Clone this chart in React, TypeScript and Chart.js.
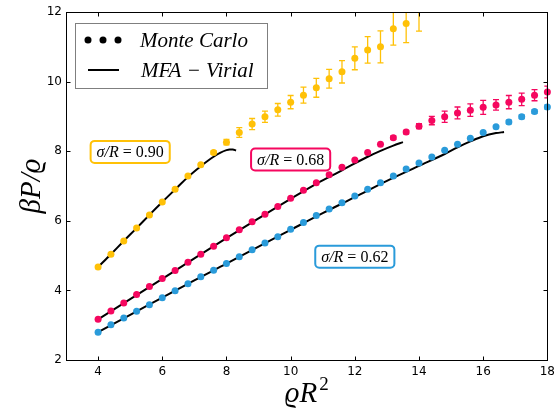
import React, { useEffect, useRef } from "react";
import { Chart, registerables } from "chart.js";
Chart.register(...registerables);

// ---- data ----
const mcRho = [4.0, 4.4, 4.8, 5.2, 5.6, 6.0, 6.4, 6.8, 7.2, 7.6, 8.0, 8.4, 8.8, 9.2, 9.6, 10.0, 10.4, 10.8, 11.2, 11.6, 12.0, 12.4, 12.8, 13.2, 13.6, 14.0, 14.4, 14.8, 15.2, 15.6, 16.0, 16.4, 16.8, 17.2, 17.6, 18.0];

const mc090 = [4.67, 5.04, 5.42, 5.79, 6.17, 6.54, 6.91, 7.29, 7.61, 7.96, 8.26, 8.54, 8.78, 8.99, 9.19, 9.41, 9.61, 9.82, 10.08, 10.28, 10.67, 10.91, 11.0, 11.52, 11.67, 12.15];
const err090 = [0.02, 0.02, 0.02, 0.02, 0.02, 0.02, 0.02, 0.02, 0.03, 0.05, 0.08, 0.14, 0.16, 0.16, 0.18, 0.19, 0.23, 0.27, 0.27, 0.32, 0.33, 0.38, 0.46, 0.47, 0.55, 0.7];

const mc068 = [3.17, 3.41, 3.64, 3.88, 4.11, 4.34, 4.57, 4.81, 5.04, 5.27, 5.51, 5.74, 5.97, 6.19, 6.41, 6.65, 6.88, 7.09, 7.32, 7.54, 7.75, 7.96, 8.2, 8.39, 8.55, 8.72, 8.88, 8.99, 9.1, 9.18, 9.26, 9.33, 9.41, 9.49, 9.61, 9.7];
const err068 = [0.02, 0.02, 0.02, 0.02, 0.02, 0.02, 0.02, 0.02, 0.02, 0.02, 0.02, 0.02, 0.02, 0.02, 0.02, 0.02, 0.02, 0.02, 0.02, 0.02, 0.02, 0.03, 0.04, 0.05, 0.05, 0.07, 0.12, 0.16, 0.17, 0.18, 0.2, 0.15, 0.19, 0.18, 0.16, 0.17];

const mc062 = [2.8, 3.01, 3.21, 3.4, 3.59, 3.79, 3.99, 4.19, 4.39, 4.58, 4.77, 4.97, 5.17, 5.36, 5.54, 5.76, 5.95, 6.15, 6.34, 6.52, 6.71, 6.91, 7.09, 7.29, 7.49, 7.66, 7.83, 8.03, 8.2, 8.37, 8.54, 8.7, 8.84, 8.99, 9.14, 9.27];
const err062 = [0.01, 0.01, 0.01, 0.01, 0.01, 0.01, 0.01, 0.01, 0.01, 0.01, 0.01, 0.01, 0.01, 0.01, 0.01, 0.01, 0.01, 0.01, 0.01, 0.01, 0.01, 0.01, 0.01, 0.01, 0.02, 0.02, 0.02, 0.03, 0.03, 0.03, 0.03, 0.04, 0.05, 0.05, 0.05, 0.06];

const mfaRho090 = [4.0, 4.4, 4.8, 5.2, 5.6, 6.0, 6.4, 6.8, 7.2, 7.4, 7.6, 7.8, 8.0, 8.1, 8.2, 8.3];
const mfa090 = [4.67, 5.04, 5.42, 5.79, 6.17, 6.54, 6.9, 7.26, 7.57, 7.71, 7.84, 7.95, 8.03, 8.05, 8.05, 8.02];

const mfaRho068 = [4.0, 5.0, 6.0, 7.0, 8.0, 9.0, 10.0, 10.8, 11.6, 12.0, 12.4, 12.8, 13.2, 13.5];
const mfa068 = [3.17, 3.75, 4.33, 4.92, 5.5, 6.07, 6.63, 7.06, 7.45, 7.65, 7.84, 8.01, 8.16, 8.26];

const mfaRho062 = [4.0, 5.0, 6.0, 7.0, 8.0, 9.0, 10.0, 11.0, 12.0, 13.0, 14.0, 14.8, 15.2, 15.6, 16.0, 16.4, 16.65];
const mfa062 = [2.8, 3.3, 3.79, 4.29, 4.77, 5.26, 5.74, 6.22, 6.68, 7.15, 7.58, 7.92, 8.11, 8.28, 8.43, 8.52, 8.55];

const xTickValues = [4, 6, 8, 10, 12, 14, 16, 18];
const yTickValues = [2, 4, 6, 8, 10, 12];

const labelText = ["0.90", "0.68", "0.62"];
const labelX = [5, 10, 12];
const labelY = [7.98, 7.76, 4.97];

const YELLOW = "#FFC107";
const RED = "#F5075F";
const BLUE = "#2A9BDA";
const colors = [YELLOW, RED, BLUE];

const pts = (xs: number[], ys: number[]) => ys.map((y, i) => ({ x: xs[i], y }));

const SERIF = "'Liberation Serif', 'DejaVu Serif', serif";

const errorBars = {
  id: "errorBars",
  beforeDatasetsDraw(chart: any) {
    const { ctx, chartArea: a, scales } = chart;
    const xs = scales.x, ys = scales.y;
    ctx.save();
    ctx.beginPath();
    ctx.rect(a.left, a.top, a.right - a.left, a.bottom - a.top);
    ctx.clip();
    chart.data.datasets.forEach((ds: any) => {
      if (!ds.errors) return;
      ctx.strokeStyle = ds.backgroundColor;
      ctx.lineWidth = 1.3;
      ds.data.forEach((p: any, i: number) => {
        const e = ds.errors[i];
        const px = xs.getPixelForValue(p.x);
        const y1 = ys.getPixelForValue(p.y + e);
        const y2 = ys.getPixelForValue(p.y - e);
        if (y2 - y1 < 3) return;
        ctx.beginPath();
        ctx.moveTo(px, y1); ctx.lineTo(px, y2);
        ctx.moveTo(px - 3, y1); ctx.lineTo(px + 3, y1);
        ctx.moveTo(px - 3, y2); ctx.lineTo(px + 3, y2);
        ctx.stroke();
      });
    });
    ctx.restore();
  },
};

const decor = {
  id: "decor",
  afterDraw(chart: any) {
    const { ctx, chartArea: a, scales } = chart;
    const xs = scales.x, ys = scales.y;
    ctx.save();
    // frame
    ctx.strokeStyle = "#000";
    ctx.lineWidth = 1;
    const L = Math.round(a.left) + 0.5, R = Math.round(a.right) + 0.5;
    const T = Math.round(a.top) + 0.5, B = Math.round(a.bottom) + 0.5;
    ctx.strokeRect(L, T, R - L, B - T);
    // inward ticks
    ctx.beginPath();
    xTickValues.forEach((v) => {
      const px = Math.round(xs.getPixelForValue(v)) + 0.5;
      ctx.moveTo(px, B); ctx.lineTo(px, B - 4);
      ctx.moveTo(px, T); ctx.lineTo(px, T + 4);
    });
    yTickValues.forEach((v) => {
      const py = Math.round(ys.getPixelForValue(v)) + 0.5;
      ctx.moveTo(L, py); ctx.lineTo(L + 4, py);
      ctx.moveTo(R, py); ctx.lineTo(R - 4, py);
    });
    ctx.stroke();

    // annotation boxes
    labelText.forEach((t, i) => {
      const cx = xs.getPixelForValue(labelX[i]);
      const cy = ys.getPixelForValue(labelY[i]);
      const fItal = `italic 16px ${SERIF}`;
      const fUp = `16px ${SERIF}`;
      ctx.font = fItal;
      const w1 = ctx.measureText("σ/R").width;
      ctx.font = fUp;
      const w2 = ctx.measureText(" = " + t).width;
      const w = w1 + w2;
      const bw = w + 12, bh = 22;
      ctx.beginPath();
      (ctx as any).roundRect(cx - bw / 2, cy - bh / 2, bw, bh, 4);
      ctx.fillStyle = "#fff";
      ctx.fill();
      ctx.lineWidth = 2;
      ctx.strokeStyle = colors[i];
      ctx.stroke();
      ctx.fillStyle = "#000";
      ctx.textBaseline = "middle";
      ctx.textAlign = "left";
      ctx.font = fItal;
      ctx.fillText("σ/R", cx - w / 2, cy + 1);
      ctx.font = fUp;
      ctx.fillText(" = " + t, cx - w / 2 + w1, cy + 1);
    });

    // legend
    ctx.fillStyle = "#fff";
    ctx.fillRect(76, 23, 192, 65);
    ctx.strokeStyle = "#7f7f7f";
    ctx.lineWidth = 1;
    ctx.strokeRect(75.5, 23.5, 192, 65);
    ctx.fillStyle = "#000";
    [88, 103, 118].forEach((dx) => {
      ctx.beginPath();
      ctx.arc(dx, 40, 3.5, 0, Math.PI * 2);
      ctx.fill();
    });
    ctx.strokeStyle = "#000";
    ctx.lineWidth = 2;
    ctx.beginPath();
    ctx.moveTo(88, 70); ctx.lineTo(119, 70);
    ctx.stroke();
    ctx.font = `italic 21px ${SERIF}`;
    ctx.textBaseline = "middle";
    ctx.textAlign = "left";
    ctx.fillText("Monte Carlo", 140, 41);
    ctx.fillText("MFA − Virial", 141, 71);

    // axis titles
    ctx.font = `italic 29px ${SERIF}`;
    ctx.textAlign = "center";
    ctx.textBaseline = "middle";
    ctx.save();
    ctx.translate(32, (a.top + a.bottom) / 2);
    ctx.rotate(-Math.PI / 2);
    ctx.fillText("βP/ϱ", 0, 0);
    ctx.restore();

    const mid = (a.left + a.right) / 2;
    ctx.font = `italic 29px ${SERIF}`;
    const wA = ctx.measureText("ϱR").width;
    ctx.font = `19px ${SERIF}`;
    const wB = ctx.measureText("2").width;
    const x0 = mid - (wA + wB + 2) / 2;
    ctx.textAlign = "left";
    ctx.textBaseline = "alphabetic";
    ctx.font = `italic 29px ${SERIF}`;
    ctx.fillText("ϱR", x0, 402);
    ctx.font = `19px ${SERIF}`;
    ctx.fillText("2", x0 + wA + 2, 390);
    ctx.restore();
  },
};

export default function App() {
  const ref = useRef<HTMLCanvasElement>(null);
  useEffect(() => {
    if (!ref.current) return;
    const pointClip = { left: 5, right: 5, top: 0, bottom: 5 };
    const mk = (xs: number[], ys: number[], errs: number[], c: string) => ({
      data: pts(xs, ys),
      errors: errs,
      backgroundColor: c,
      borderColor: c,
      pointRadius: 3.5,
      pointBorderWidth: 0,
      showLine: false,
      order: 1,
      clip: pointClip,
    });
    const ln = (xs: number[], ys: number[]) => ({
      data: pts(xs, ys),
      showLine: true,
      borderColor: "#000",
      backgroundColor: "#000",
      borderWidth: 2,
      pointRadius: 0,
      cubicInterpolationMode: "monotone",
      order: 2,
    });
    const chart = new Chart(ref.current, {
      type: "scatter",
      data: {
        datasets: [
          ln(mfaRho090, mfa090),
          ln(mfaRho068, mfa068),
          ln(mfaRho062, mfa062),
          mk(mcRho, mc090, err090, YELLOW),
          mk(mcRho, mc068, err068, RED),
          mk(mcRho, mc062, err062, BLUE),
        ] as any,
      },
      options: {
        animation: false,
        responsive: false,
        events: [],
        layout: { padding: { top: 12, right: 8, left: 0, bottom: 0 } },
        plugins: { legend: { display: false }, tooltip: { enabled: false } },
        scales: {
          x: {
            type: "linear",
            min: 3,
            max: 18,
            grid: { display: false, drawTicks: false },
            border: { display: false },
            afterBuildTicks: (s: any) => { s.ticks = xTickValues.map((v) => ({ value: v })); },
            afterFit: (s: any) => { s.height = 52; },
            ticks: { padding: 5, color: "#000", font: { family: "'DejaVu Sans'", size: 12 }, maxRotation: 0, autoSkip: false },
          },
          y: {
            type: "linear",
            min: 2,
            max: 12,
            grid: { display: false, drawTicks: false },
            border: { display: false },
            afterBuildTicks: (s: any) => { s.ticks = yTickValues.map((v) => ({ value: v })); },
            afterFit: (s: any) => { s.width = 66; },
            ticks: { padding: 4, color: "#000", font: { family: "'DejaVu Sans'", size: 12 }, autoSkip: false },
          },
        },
      } as any,
      plugins: [errorBars, decor],
    });
    return () => chart.destroy();
  }, []);
  return (
    <div style={{ position: "absolute", left: 0, top: 0, width: 560, height: 412, background: "#fff" }}>
      <canvas ref={ref} width={560} height={412} />
    </div>
  );
}
